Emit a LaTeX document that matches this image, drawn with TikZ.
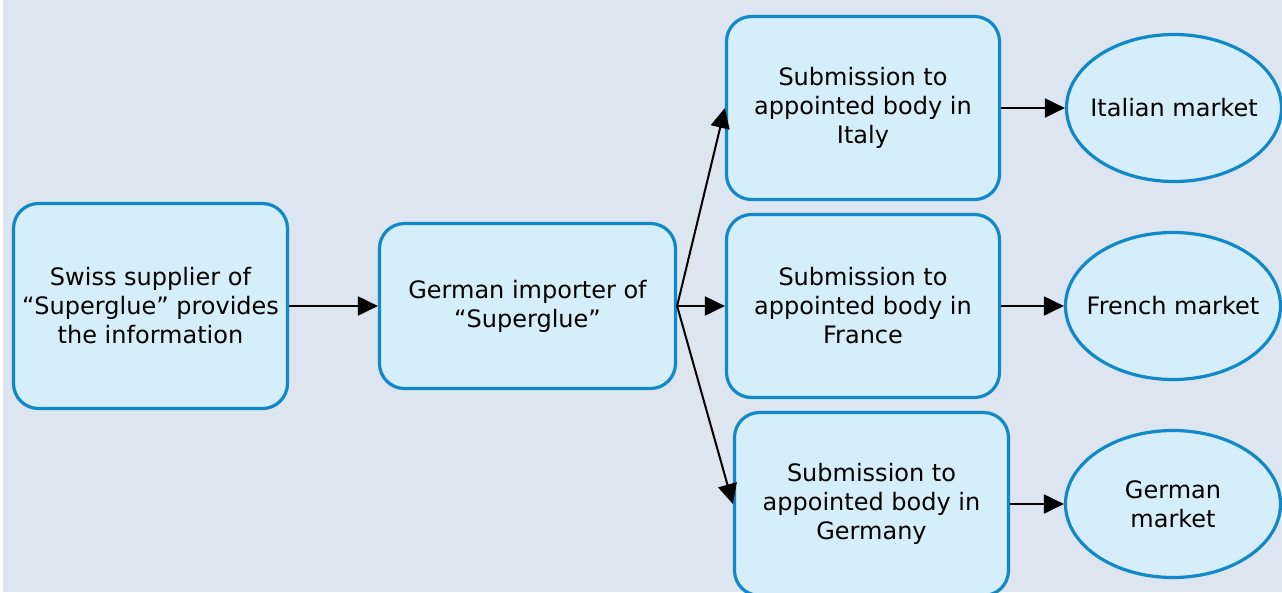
\documentclass[tikz,border=0pt]{standalone}
\usepackage{fontspec}
\setmainfont{DejaVu Sans}
\usetikzlibrary{arrows.meta,shapes.geometric}
\definecolor{pagebg}{HTML}{DCE5F0}
\definecolor{boxfill}{HTML}{D6EDFA}
\definecolor{boxline}{HTML}{1188C8}
\tikzset{
  every node/.style={font=\fontsize{24}{29}\selectfont, text=black, align=center},
  stepbox/.style={draw=boxline, fill=boxfill, line width=3.2pt, rounded corners=25pt,
                  inner sep=0pt},
  market/.style={ellipse, draw=boxline, fill=boxfill, line width=3.2pt, inner sep=0pt,
                 minimum width=215pt, minimum height=147pt},
  flow/.style={line width=2pt, -{Triangle[length=20pt,width=19pt]}},
}
\begin{document}
\begin{tikzpicture}[x=1pt,y=-1pt]
  % canvas
  \useasboundingbox (0,0) rectangle (1282,592);
  \fill[white] (0,0) rectangle (1282,592);
  \fill[pagebg] (3,0) rectangle (1282,592);
  \begin{scope}
    \clip (0,0) rectangle (1282,592);
    % process boxes
    \node[stepbox, minimum width=274pt, minimum height=205pt] (supplier) at (150.5,306)
      {Swiss supplier of\\“Superglue” provides\\the information};
    \node[stepbox, minimum width=296pt, minimum height=165pt] (importer) at (527.5,306)
      {German importer of\\“Superglue”};
    \node[stepbox, minimum width=273pt, minimum height=183pt] (italy) at (863,108)
      {Submission to\\appointed body in\\Italy};
    \node[stepbox, minimum width=273pt, minimum height=183pt] (france) at (863,306)
      {Submission to\\appointed body in\\France};
    \node[stepbox, minimum width=274pt, minimum height=183pt] (germany) at (871.5,504)
      {Submission to\\appointed body in\\Germany};
    % markets: outlines first, labels on top
    \node[market] (itmkt) at (1174,108) {};
    \node[market] (frmkt) at (1173,306) {};
    \node[market] (demkt) at (1173,504) {};
    \node (itlabel) at (itmkt.center) {Italian market};
    \node (frlabel) at (frmkt.center) {French market};
    \node (delabel) at (demkt.center) {German\\market};
    % connectors
    \draw[flow] (supplier.east) -- (importer.west);
    \draw[flow] (importer.east) -- (italy.west);
    \draw[flow] (importer.east) -- (france.west);
    \draw[flow] (importer.east) -- (germany.west);
    \draw[flow] (italy.east) -- (itmkt.west);
    \draw[flow] (france.east) -- (frmkt.west);
    \draw[flow] (germany.east) -- (demkt.west);
  \end{scope}
\end{tikzpicture}
\end{document}
